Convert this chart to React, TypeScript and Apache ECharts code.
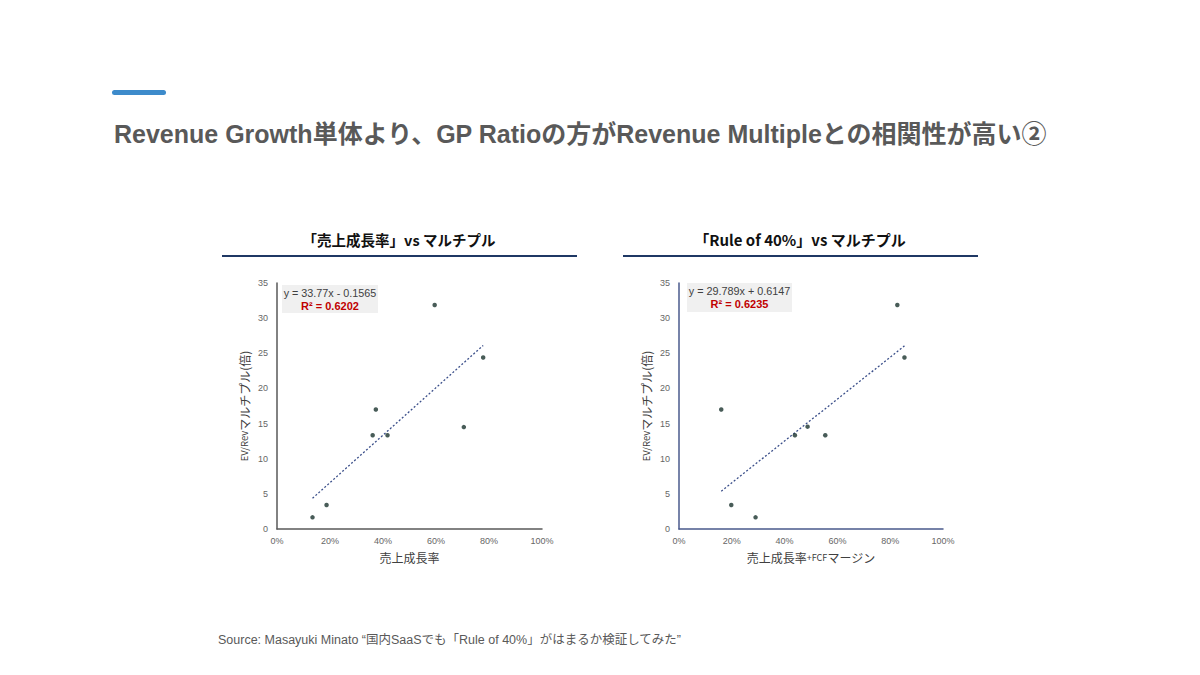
import React, { useEffect, useRef } from "react";
import * as echarts from "echarts";

const pageTitle = "Revenue Growth単体より、GP Ratioの方がRevenue Multipleとの相関性が高い②";
const leftTitle = "「売上成長率」vs マルチプル";
const rightTitle = "「Rule of 40%」vs マルチプル";
const sourceText = "Source: Masayuki Minato “国内SaaSでも「Rule of 40%」がはまるか検証してみた”";

const xTicks = [0, 0.2, 0.4, 0.6, 0.8, 1.0];
const yTicks = [0, 5, 10, 15, 20, 25, 30, 35];

// left chart: revenue growth vs EV/Rev multiple
const growthX = [0.134, 0.187, 0.361, 0.373, 0.417, 0.595, 0.705, 0.778];
const growthY = [1.66, 3.41, 13.33, 17.0, 13.33, 31.87, 14.5, 24.4];
const growthSlope = 33.77;
const growthIntercept = -0.1565;
const growthEq = "y = 33.77x - 0.1565";
const growthR2 = "R² = 0.6202";

// right chart: rule of 40 vs EV/Rev multiple
const ruleX = [0.16, 0.198, 0.29, 0.439, 0.487, 0.554, 0.827, 0.854];
const ruleY = [17.0, 3.41, 1.66, 13.33, 14.56, 13.33, 31.87, 24.4];
const ruleSlope = 29.789;
const ruleIntercept = 0.6147;
const ruleEq = "y = 29.789x + 0.6147";
const ruleR2 = "R² = 0.6235";

const FONT = "'Liberation Sans', 'Noto Sans CJK JP', sans-serif";
const CJK = "'Noto Sans CJK JP', 'Liberation Sans', sans-serif";

function fitLine(xs: number[], slope: number, intercept: number) {
  const lo = Math.min(...xs);
  const hi = Math.max(...xs);
  return [
    [lo, slope * lo + intercept],
    [hi, slope * hi + intercept],
  ];
}

export default function App() {
  const ref = useRef<HTMLDivElement>(null);
  useEffect(() => {
    document.body.style.margin = "0";
    const chart = echarts.init(ref.current!, null, { renderer: "svg" });

    const axisX = (gridIndex: number, axisColor: string, name: string) => ({
      type: "value",
      gridIndex,
      min: 0,
      max: 1,
      interval: 0.2,
      axisLine: { show: true, lineStyle: { color: axisColor, width: 1.5 } },
      axisTick: { show: false },
      splitLine: { show: false },
      axisLabel: {
        color: "#666",
        fontSize: 9,
        fontFamily: FONT,
        margin: 7,
        formatter: (v: number) => `${Math.round(v * 100)}%`,
        customValues: xTicks,
      },
      name,
      nameLocation: "middle",
      nameGap: 22,
      nameTextStyle: {
        color: "#404040",
        fontFamily: CJK,
        fontSize: 12,
        rich: {
          s: { fontSize: 9, fontFamily: CJK, color: "#404040" },
          n: { fontSize: 12, fontFamily: CJK, color: "#404040" },
        },
      },
    });

    const axisY = (gridIndex: number, axisColor: string) => ({
      type: "value",
      gridIndex,
      min: 0,
      max: 35,
      interval: 5,
      axisLine: { show: true, lineStyle: { color: axisColor, width: 1.5 } },
      axisTick: { show: false },
      splitLine: { show: false },
      axisLabel: { color: "#666", fontSize: 9, fontFamily: FONT, margin: 9, customValues: yTicks },
      name: "{s|EV/Rev}{n|マルチプル(倍)}",
      nameLocation: "middle",
      nameGap: 27,
      nameTextStyle: {
        color: "#404040",
        fontFamily: CJK,
        fontSize: 12,
        rich: {
          s: { fontSize: 9.5, fontFamily: CJK, color: "#404040" },
          n: { fontSize: 12, fontFamily: CJK, color: "#404040" },
        },
      },
    });

    const dotColor = "#1a332e";
    const lineColor = "#3b4f8a";

    const eqBox = (x: number, y: number, w: number, h: number, eq: string, r2: string) => [
      { type: "rect", shape: { x, y, width: w, height: h }, style: { fill: "#f0f0f0" }, z: 5 },
      {
        type: "text",
        x: x + w / 2,
        y: y + 8,
        z: 6,
        style: { text: eq, fill: "#404040", font: `10.8px ${FONT}`, align: "center", verticalAlign: "middle" },
      },
      {
        type: "text",
        x: x + w / 2,
        y: y + 21,
        z: 6,
        style: { text: r2, fill: "#c00000", font: `bold 11px ${FONT}`, align: "center", verticalAlign: "middle" },
      },
    ];

    chart.setOption({
      animation: false,
      backgroundColor: "#ffffff",
      grid: [
        { left: 277, top: 283, width: 265, height: 246 },
        { left: 679, top: 283, width: 264, height: 246 },
      ],
      xAxis: [axisX(0, "#595959", "売上成長率"), axisX(1, "#4a5a8c", "{n|売上成長率}{s|+FCF}{n|マージン}")],
      yAxis: [axisY(0, "#595959"), axisY(1, "#4a5a8c")],
      series: [
        {
          type: "line",
          xAxisIndex: 0,
          yAxisIndex: 0,
          data: fitLine(growthX, growthSlope, growthIntercept),
          symbol: "none",
          lineStyle: { color: lineColor, width: 1.3, type: [2, 2] },
          z: 2,
        },
        {
          type: "scatter",
          xAxisIndex: 0,
          yAxisIndex: 0,
          data: growthX.map((x, i) => [x, growthY[i]]),
          symbolSize: 4.5,
          itemStyle: { color: dotColor },
          z: 3,
        },
        {
          type: "line",
          xAxisIndex: 1,
          yAxisIndex: 1,
          data: fitLine(ruleX, ruleSlope, ruleIntercept),
          symbol: "none",
          lineStyle: { color: lineColor, width: 1.3, type: [2, 2] },
          z: 2,
        },
        {
          type: "scatter",
          xAxisIndex: 1,
          yAxisIndex: 1,
          data: ruleX.map((x, i) => [x, ruleY[i]]),
          symbolSize: 4.5,
          itemStyle: { color: dotColor },
          z: 3,
        },
      ],
      graphic: [
        { type: "rect", shape: { x: 112, y: 90, width: 54, height: 5, r: 2.5 }, style: { fill: "#3d8bcb" } },
        {
          type: "text",
          x: 114,
          y: 134,
          style: {
            text: pageTitle,
            fill: "#595959",
            font: `bold 25px ${FONT}`,
            verticalAlign: "middle",
          },
        },
        {
          type: "text",
          x: 399,
          y: 239,
          style: { text: leftTitle, fill: "#111", font: `bold 14.5px ${CJK}`, align: "center", verticalAlign: "middle" },
        },
        {
          type: "text",
          x: 800,
          y: 239,
          style: { text: rightTitle, fill: "#111", font: `bold 15px ${CJK}`, align: "center", verticalAlign: "middle" },
        },
        { type: "line", shape: { x1: 222, y1: 256, x2: 577, y2: 256 }, style: { stroke: "#1f3864", lineWidth: 2 } },
        { type: "line", shape: { x1: 623, y1: 256, x2: 978, y2: 256 }, style: { stroke: "#1f3864", lineWidth: 2 } },
        ...eqBox(282, 285, 96, 28, growthEq, growthR2),
        ...eqBox(687, 283, 105, 29, ruleEq, ruleR2),
        {
          type: "text",
          x: 218,
          y: 640,
          style: { text: sourceText, fill: "#595959", font: `12.5px ${FONT}`, verticalAlign: "middle" },
        },
      ],
    });
    return () => chart.dispose();
  }, []);
  return <div ref={ref} style={{ width: 1200, height: 675 }} />;
}
